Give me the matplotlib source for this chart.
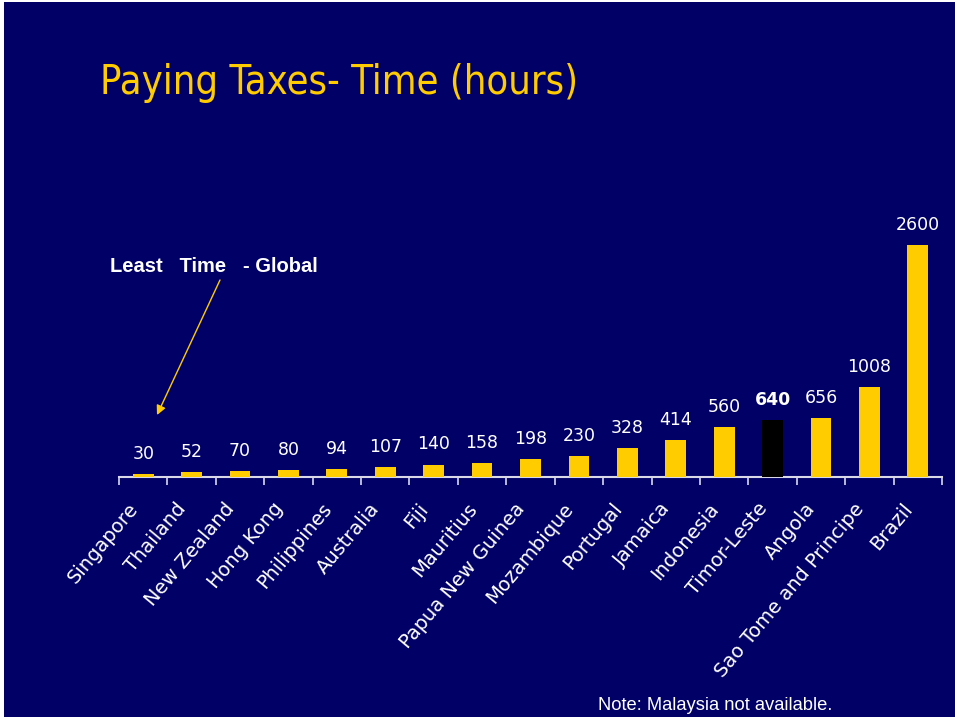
import numpy as np
import matplotlib
matplotlib.use("Agg")
import matplotlib.pyplot as plt
from matplotlib.transforms import ScaledTranslation

# Data
countries = ["Singapore", "Thailand", "New Zealand", "Hong Kong", "Philippines",
             "Australia", "Fiji", "Mauritius", "Papua New Guinea", "Mozambique",
             "Portugal", "Jamaica", "Indonesia", "Timor-Leste", "Angola",
             "Sao Tome and Principe", "Brazil"]
hours = [30, 52, 70, 80, 94, 107, 140, 158, 198, 230, 328, 414, 560, 640, 656, 1008, 2600]
highlight = "Timor-Leste"

navy = "#000066"
yellow = "#FFCC00"

fig = plt.figure(figsize=(9.55, 7.17), dpi=100)
fig.patch.set_facecolor("white")
# slide background (thin white margin at left/top like the reference)
fig.add_artist(plt.Rectangle((4 / 955, 0), 1, 1 - 2 / 717, transform=fig.transFigure,
                             facecolor=navy, edgecolor="none", zorder=0))

ax = fig.add_axes([119 / 955, 240 / 717, (942 - 119) / 955, 277 / 717])
ax.set_facecolor("none")

x = np.arange(len(countries))
colors = ["black" if c == highlight else yellow for c in countries]
bars = ax.bar(x, hours, width=0.43, color=colors, zorder=3)

ax.set_xlim(-0.5, len(countries) - 0.5)
ax.set_ylim(0, 2600 * 277 / 232)

for xi, h, c in zip(x, hours, countries):
    ax.annotate(str(h), (xi, h), xytext=(0, 8), textcoords="offset points",
                ha="center", va="bottom", color="white", fontsize=12.5,
                fontweight="bold" if c == highlight else "normal")

# axis line with boundary ticks
for s in ["top", "right", "left"]:
    ax.spines[s].set_visible(False)
ax.spines["bottom"].set_color("#d8d8e8")
ax.spines["bottom"].set_linewidth(1.5)
ax.set_yticks([])
ax.set_xticks(np.arange(-0.5, len(countries)), minor=False)
ax.tick_params(axis="x", which="major", length=6, width=1.2, color="#d8d8e8",
               labelbottom=False)
ax.set_xticks(x, minor=True)
ax.set_xticklabels(countries, minor=True, rotation=50, ha="right",
                   rotation_mode="anchor", color="white", fontsize=14)
ax.tick_params(axis="x", which="minor", length=0, pad=16)
shift = ScaledTranslation(-16 / 100, 0, fig.dpi_scale_trans)
for lbl in ax.get_xticklabels(minor=True):
    lbl.set_transform(lbl.get_transform() + shift)

fig.text(100 / 955, 1 - 83 / 717, "Paying Taxes- Time (hours)", color=yellow,
         fontsize=28.5, family="DejaVu Sans", fontstretch="condensed",
         va="center", ha="left")

fig.text(110 / 955, 1 - 266 / 717, "Least   Time   - Global", color="white",
         fontsize=14.5, fontweight="bold", family="Liberation Sans", va="center")
ax.annotate("", xy=(157, 717 - 415), xycoords="figure pixels",
            xytext=(220, 717 - 280), textcoords="figure pixels",
            arrowprops=dict(arrowstyle="-|>", color=yellow, lw=1.0,
                            mutation_scale=14, shrinkA=0, shrinkB=0))

fig.text(598 / 955, 1 - 705 / 717, "Note: Malaysia not available.", color="white",
         fontsize=13.2, family="Liberation Sans", va="center", ha="left")

fig.savefig("out.png", dpi=100, facecolor=fig.get_facecolor())
